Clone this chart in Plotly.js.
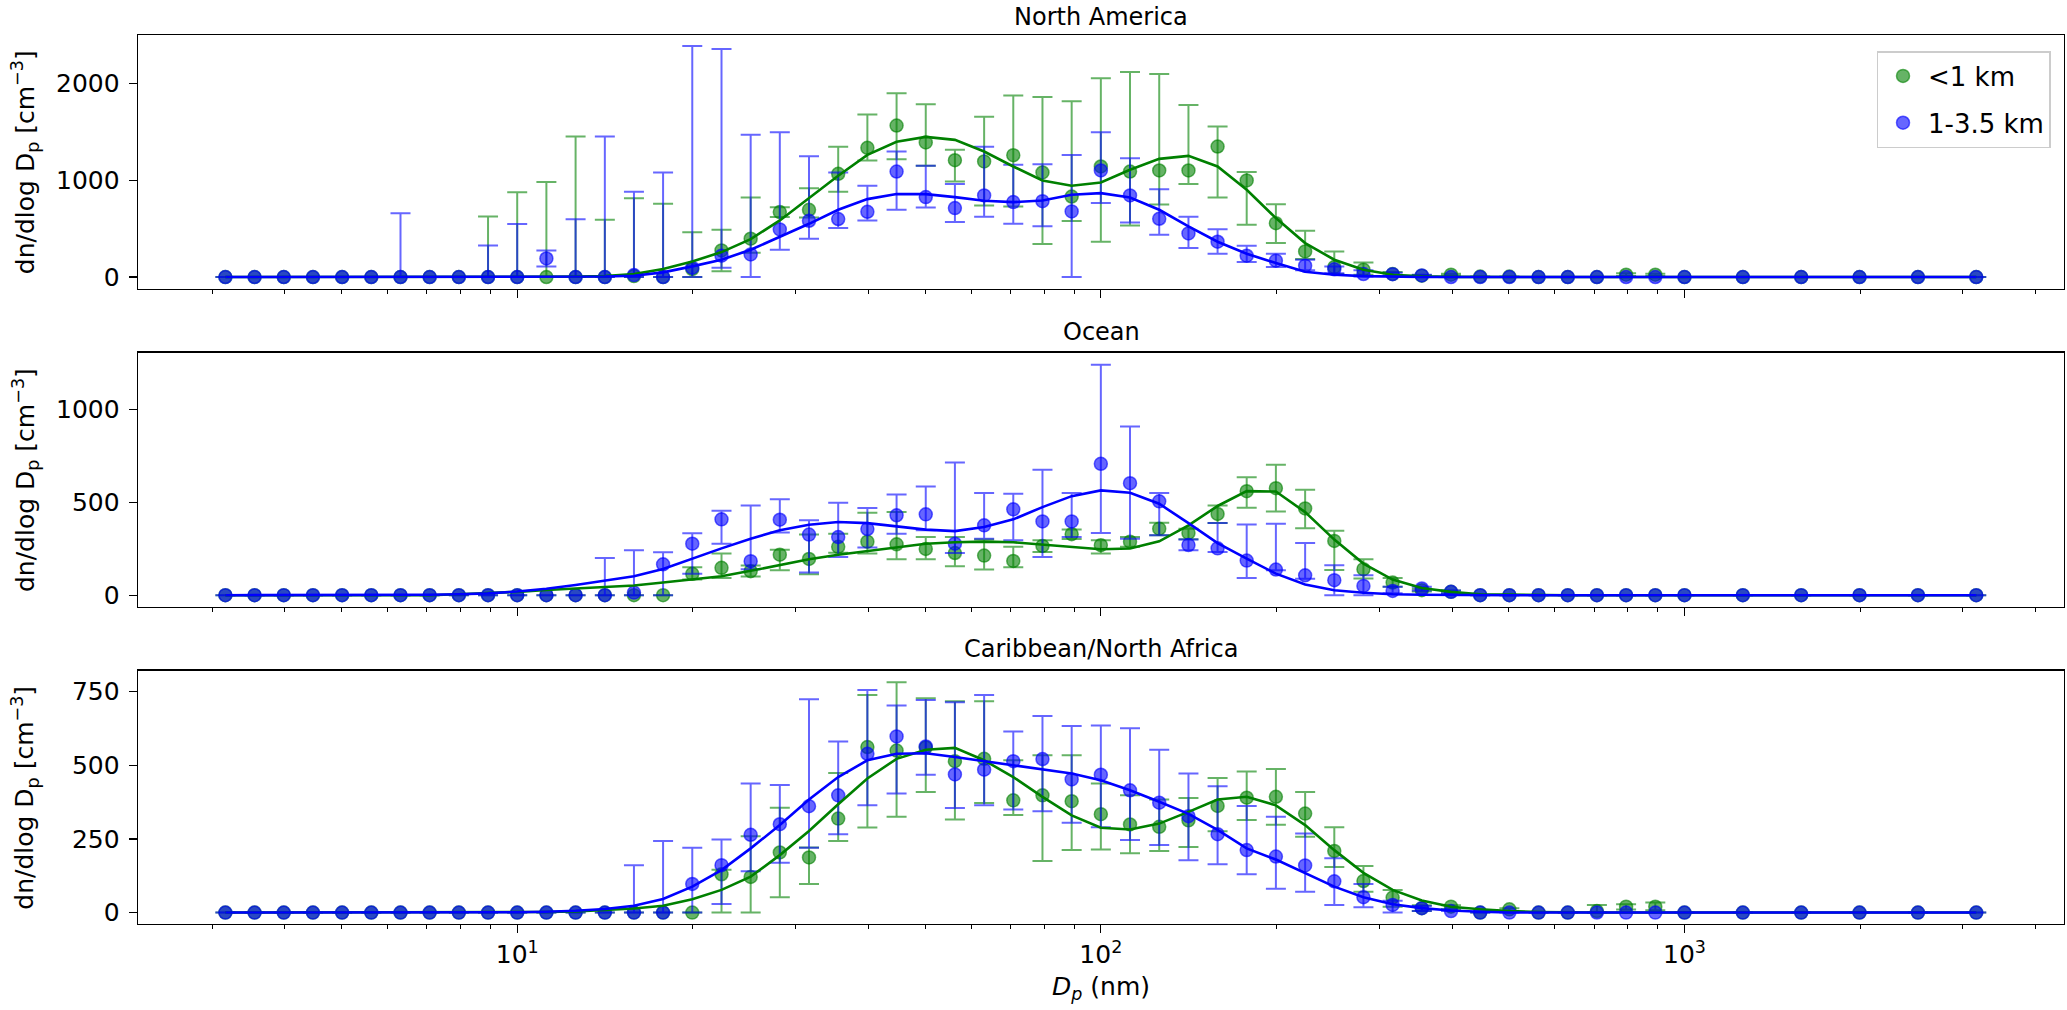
<!DOCTYPE html>
<html>
<head>
<meta charset="utf-8">
<script src="https://cdn.plot.ly/plotly-3.0.1.min.js"></script>
<style>
  body { margin: 0; background: white; }
  #plot { width: 2067px; height: 1010px; }
</style>
</head>
<body>
<div id="plot"></div>
<script>
// particle diameter bins (nm)
var diameters = [3.162, 3.548, 3.981, 4.467, 5.012, 5.623, 6.310, 7.079, 7.943, 8.913,
	10.00, 11.22, 12.59, 14.13, 15.85, 17.78, 19.95, 22.39, 25.12, 28.18,
	31.62, 35.48, 39.81, 44.67, 50.12, 56.23, 63.10, 70.79, 79.43, 89.13,
	100.0, 112.2, 125.9, 141.3, 158.5, 177.8, 199.5, 223.9, 251.2, 281.8,
	316.2, 354.8, 398.1, 446.7, 501.2, 562.3, 631.0, 707.9, 794.3, 891.3,
	1000, 1259, 1585, 1995, 2512, 3162];

var panelTitles = ['North America', 'Ocean', 'Caribbean/North Africa'];
var seriesNames = ['&lt;1 km', '1-3.5 km'];

// ---- North America ----
// mean values, upper / lower ends of the error bars (null = no bar), fitted curve
var naLow = [0, 0, 0, 0, 0, 0, 0, 0, 0, 0,
	0, 0, 0, 0, 10, 0, 83, 275, 396, 671,
	695, 1066, 1335, 1565, 1390, 1207, 1194, 1259, 1080, 832,
	1142, 1090, 1101, 1101, 1348, 998, 557, 265, 103, 76,
	31, 14, 25, 5, 5, 0, 0, 0, 24, 24,
	0, 0, 0, 0, 0, 0];
var naLowHi = [null, null, null, null, null, null, null, null, null, 626,
	877, 983, 1451, 592, 815, 757, 464, 488, 822, 720,
	918, 1345, 1679, 1899, 1785, 1314, 1655, 1875, 1861, 1816,
	2054, 2119, 2098, 1778, 1555, 1084, 753, 478, 265, 151,
	52, 20, 35, null, null, null, null, null, 40, 35,
	null, null, null, null, null, null];
var naLowLo = [null, null, null, null, null, null, null, null, null, 0,
	0, 0, 0, 0, 0, 0, 0, 60, 250, 620,
	616, 881, 1204, 1218, 1150, 987, 740, 729, 341, 578,
	365, 533, 750, 960, 822, 540, 351, 186, 31, 24,
	15, 8, 15, null, null, null, null, null, 10, 12,
	null, null, null, null, null, null];
var naLowFit = [0, 0, 0, 0, 0, 0, 0, 0, 0, 0,
	0, 0, 4, 10, 30, 83, 160, 258, 392, 585,
	815, 1046, 1262, 1397, 1448, 1417, 1297, 1142, 998, 943,
	977, 1108, 1221, 1252, 1142, 901, 609, 351, 179, 76,
	24, 7, 2, 0, 0, 0, 0, 0, 0, 0,
	0, 0, 0, 0, 0, 0];
var naHigh = [0, 0, 0, 0, 0, 0, 0, 0, 0, 0,
	0, 192, 0, 0, 20, 0, 96, 220, 234, 492,
	581, 599, 674, 1090, 826, 712, 843, 774, 784, 678,
	1101, 843, 602, 451, 365, 220, 169, 117, 80, 31,
	30, 17, 0, 0, 0, 0, 0, 0, 0, 0,
	0, 0, 0, 0, 0, 0];
var naHighHi = [null, null, null, null, null, null, 660, null, null, 326,
	547, 275, 598, 1451, 880, 1080, 2387, 2356, 1469, 1496,
	1249, 1080, 943, 1297, 1150, 960, 1345, 1159, 1166, 1262,
	1496, 1228, 908, 623, 495, 323, 241, 179, 110, 69,
	45, 25, null, null, null, null, null, null, null, null,
	null, null, null, null, null, null];
var naHighLo = [null, null, null, null, null, null, 0, null, null, 0,
	0, 109, 0, 0, 0, 0, 0, 96, 0, 282,
	396, 506, 585, 695, 719, 568, 623, 550, 526, 0,
	764, 564, 437, 299, 241, 155, 103, 69, 40, 5,
	15, 10, null, null, null, null, null, null, null, null,
	null, null, null, null, null, null];
var naHighFit = [0, 0, 0, 0, 0, 0, 0, 0, 0, 0,
	0, 0, 2, 5, 14, 48, 110, 179, 282, 413,
	550, 695, 805, 857, 857, 826, 788, 774, 791, 850,
	867, 822, 695, 523, 365, 241, 144, 55, 24, 10,
	3, 0, 0, 0, 0, 0, 0, 0, 0, 0,
	0, 0, 0, 0, 0, 0];

// ---- Ocean ----
var ocLow = [0, 0, 0, 0, 0, 0, 0, 0, 0, 0,
	0, 0, 0, 0, 0, 0, 115, 147, 129, 218,
	195, 260, 288, 274, 249, 227, 213, 184, 265, 328,
	269, 288, 358, 335, 437, 560, 576, 467, 292, 140,
	68, 27, 18, 0, 0, 0, 0, 0, 0, 0,
	0, 0, 0, 0, 0, 0];
var ocLowHi = [null, null, null, null, null, null, null, null, null, null,
	null, null, null, null, null, null, 150, 224, 160, 245,
	326, 331, 444, 447, 313, 313, 299, 260, 295, 353,
	295, 313, 390, 358, 483, 635, 702, 567, 347, 193,
	93, 35, 25, null, null, null, null, null, null, null,
	null, null, null, null, null, null];
var ocLowLo = [null, null, null, null, null, null, null, null, null, null,
	null, null, null, null, null, null, 84, 93, 100, 134,
	113, 229, 224, 193, 193, 156, 138, 150, 233, 303,
	224, 260, 322, 301, 388, 470, 450, 360, 135, 90,
	45, 20, 10, null, null, null, null, null, null, null,
	null, null, null, null, null, null];
var ocLowFit = [0, 0, 0, 0, 0, 0, 0, 0, 5, 10,
	18, 28, 36, 44, 52, 68, 86, 102, 131, 161,
	193, 218, 238, 260, 277, 285, 288, 285, 272, 260,
	247, 251, 290, 376, 480, 560, 558, 447, 299, 170,
	84, 39, 18, 5, 2, 0, 0, 0, 0, 0,
	0, 0, 0, 0, 0, 0];
var ocHigh = [0, 0, 0, 0, 0, 0, 0, 0, 0, 0,
	0, 0, 0, 0, 14, 166, 277, 408, 183, 406,
	326, 313, 356, 430, 435, 277, 376, 462, 397, 397,
	707, 603, 505, 270, 252, 186, 138, 107, 81, 50,
	23, 36, 18, 0, 0, 0, 0, 0, 0, 0,
	0, 0, 0, 0, 0, 0];
var ocHighHi = [null, null, null, null, null, null, null, null, null, null,
	null, null, null, 200, 242, 231, 333, 455, 482, 516,
	403, 498, 469, 542, 585, 714, 550, 546, 675, 550,
	1240, 908, 550, 300, 388, 381, 385, 281, 161, 107,
	45, 45, 25, null, null, null, null, null, null, null,
	null, null, null, null, null, null];
var ocHighLo = [null, null, null, null, null, null, null, null, null, null,
	null, null, null, 0, 0, 0, 116, 277, 140, 337,
	122, 206, 256, 330, 350, 227, 304, 295, 206, 313,
	335, 304, 322, 242, 233, 93, 134, 89, 0, 0,
	10, 25, 10, null, null, null, null, null, null, null,
	null, null, null, null, null, null];
var ocHighFit = [0, 0, 0, 0, 0, 0, 0, 2, 5, 10,
	20, 35, 55, 78, 102, 141, 197, 252, 304, 349,
	379, 394, 388, 371, 353, 345, 367, 408, 474, 533,
	564, 551, 492, 388, 280, 197, 116, 57, 27, 13,
	5, 2, 0, 0, 0, 0, 0, 0, 0, 0,
	0, 0, 0, 0, 0, 0];

// ---- Caribbean/North Africa ----
var caLow = [0, 0, 0, 0, 0, 0, 0, 0, 0, 0,
	0, 0, 0, 0, 0, 0, 0, 130, 121, 204,
	187, 319, 562, 550, 560, 514, 522, 381, 398, 378,
	334, 299, 291, 313, 362, 390, 393, 336, 209, 107,
	51, 15, 20, 0, 11, 0, 0, 5, 20, 20,
	0, 0, 0, 0, 0, 0];
var caLowHi = [null, null, null, null, null, null, null, null, null, null,
	null, null, null, null, null, null, null, 145, 259, 356,
	221, 474, 739, 782, 728, 717, 717, 517, 534, 534,
	438, 398, 384, 389, 457, 479, 487, 409, 290, 158,
	77, 25, 25, null, 15, null, null, 26, 28, 34,
	null, null, null, null, null, null];
var caLowLo = [null, null, null, null, null, null, null, null, null, null,
	null, null, null, null, null, null, null, 0, 0, 52,
	97, 243, 289, 325, 409, 316, 372, 331, 175, 212,
	214, 201, 209, 223, 276, 314, 298, 257, 155, 71,
	20, 5, 12, null, 5, null, null, 0, 10, 8,
	null, null, null, null, null, null];
var caLowFit = [0, 0, 0, 0, 0, 0, 0, 0, 0, 0,
	0, 2, 4, 8, 14, 23, 45, 77, 122, 195,
	277, 368, 455, 522, 553, 559, 517, 460, 393, 330,
	288, 282, 302, 342, 384, 393, 364, 297, 212, 135,
	77, 41, 20, 11, 5, 2, 0, 0, 0, 0,
	0, 0, 0, 0, 0, 0];
var caHigh = [0, 0, 0, 0, 0, 0, 0, 0, 0, 0,
	0, 0, 0, 0, 0, 0, 97, 161, 264, 300,
	361, 398, 539, 598, 564, 469, 485, 514, 521, 452,
	468, 415, 373, 327, 266, 212, 190, 160, 106, 52,
	26, 15, 5, 0, 0, 0, 0, 0, 0, 0,
	0, 0, 0, 0, 0, 0];
var caHighHi = [null, null, null, null, null, null, null, null, null, null,
	null, null, null, null, 161, 243, 220, 248, 438, 433,
	724, 581, 756, 703, 722, 714, 739, 615, 667, 633,
	635, 626, 553, 472, 429, 362, 325, 268, 184, 97,
	40, 22, null, null, null, null, null, null, null, null,
	null, null, null, null, null, null];
var caHighLo = [null, null, null, null, null, null, null, null, null, null,
	null, null, null, null, 0, 0, 0, 29, 140, 169,
	220, 266, 364, 404, 468, 355, 364, 350, 344, 305,
	290, 246, 229, 178, 164, 130, 81, 71, 26, 18,
	0, 5, null, null, null, null, null, null, null, null,
	null, null, null, null, null, null];
var caHighFit = [0, 0, 0, 0, 0, 0, 0, 0, 0, 0,
	1, 3, 6, 12, 23, 46, 88, 144, 218, 297,
	384, 460, 517, 539, 541, 528, 514, 502, 488, 472,
	449, 415, 376, 335, 281, 218, 180, 133, 88, 52,
	28, 15, 7, 3, 0, 0, 0, 0, 0, 0,
	0, 0, 0, 0, 0, 0];

// axis ticks
var yTicks = [[0, 1000, 2000], [0, 500, 1000], [0, 250, 500, 750]];
var yRanges = [[-120, 2500], [-62, 1305], [-39, 821]];
var xTickVals = [10, 100, 1000];
var xTickText = ['10<sup>1</sup>', '10<sup>2</sup>', '10<sup>3</sup>'];
var xMinorVals = [3, 4, 5, 6, 7, 8, 9, 20, 30, 40, 50, 60, 70, 80, 90,
	200, 300, 400, 500, 600, 700, 800, 900, 2000, 3000, 4000];

var colLow = {line: 'rgb(0,128,0)', fill: 'rgba(0,128,0,0.6)'};
var colHigh = {line: 'rgb(0,0,255)', fill: 'rgba(0,0,255,0.6)'};

// layout geometry (paper fractions, figure is 2067x1010)
var domains = [[0.7142, 0.9653], [0.3993, 0.6508], [0.0851, 0.3359]];
var titleY = [0.983, 0.6713, 0.3579];
var fontFamily = 'DejaVu Sans, Liberation Sans, sans-serif';
var fontSize = 25;


function errUp(vals, hi) {
	return vals.map(function(v, i) { return hi[i] === null ? 0 : hi[i] - v; });
}

function errDown(vals, lo) {
	return vals.map(function(v, i) { return lo[i] === null ? 0 : v - lo[i]; });
}

function pointTrace(k, name, col, vals, hi, lo, showLegend) {
	var sfx = k === 0 ? '' : String(k + 1);
	return {
		type: 'scatter',
		mode: 'markers',
		x: diameters,
		y: vals,
		name: name,
		legendgroup: name,
		showlegend: showLegend,
		xaxis: 'x' + sfx,
		yaxis: 'y' + sfx,
		marker: {size: 13, color: col.fill, line: {color: col.fill, width: 1.5}},
		error_y: {
			type: 'data',
			symmetric: false,
			array: errUp(vals, hi),
			arrayminus: errDown(vals, lo),
			color: col.fill,
			thickness: 2,
			width: 10
		},
		hoverinfo: 'x+y'
	};
}

function fitTrace(k, col, fit) {
	var sfx = k === 0 ? '' : String(k + 1);
	return {
		type: 'scatter',
		mode: 'lines',
		x: diameters,
		y: fit,
		showlegend: false,
		xaxis: 'x' + sfx,
		yaxis: 'y' + sfx,
		line: {color: col.line, width: 2.6},
		hoverinfo: 'skip'
	};
}

var panels = [
	[naLow, naLowHi, naLowLo, naLowFit, naHigh, naHighHi, naHighLo, naHighFit],
	[ocLow, ocLowHi, ocLowLo, ocLowFit, ocHigh, ocHighHi, ocHighLo, ocHighFit],
	[caLow, caLowHi, caLowLo, caLowFit, caHigh, caHighHi, caHighLo, caHighFit]
];

var data = [];
for (var k = 0; k < panels.length; k++) {
	let p = panels[k];
	data.push(pointTrace(k, seriesNames[0], colLow, p[0], p[1], p[2], k === 0));
	data.push(pointTrace(k, seriesNames[1], colHigh, p[4], p[5], p[6], k === 0));
	data.push(fitTrace(k, colLow, p[3]));
	data.push(fitTrace(k, colHigh, p[7]));
}

var layout = {
	width: 2067,
	height: 1010,
	margin: {l: 138, r: 3, t: 0, b: 0},
	paper_bgcolor: 'white',
	plot_bgcolor: 'white',
	font: {family: fontFamily, size: fontSize, color: 'black'},
	showlegend: true,
	legend: {
		x: 0.993, y: 0.9495, xanchor: 'right', yanchor: 'top',
		bgcolor: 'white', bordercolor: '#cccccc', borderwidth: 1.5,
		font: {size: 26}, itemwidth: 40
	},
	annotations: []
};

for (var k = 0; k < 3; k++) {
	let sfx = k === 0 ? '' : String(k + 1);
	layout['xaxis' + sfx] = {
		type: 'log',
		range: [Math.log10(2.24), Math.log10(4470)],
		domain: [0, 1],
		anchor: 'y' + sfx,
		showline: true, mirror: true, linecolor: 'black', linewidth: 1.3,
		showgrid: false, zeroline: false,
		ticks: 'outside', ticklen: 8, tickwidth: 1.3, tickcolor: 'black',
		tickmode: 'array', tickvals: xTickVals, ticktext: xTickText,
		showticklabels: k === 2,
		tickfont: {size: fontSize},
		minor: {tickmode: 'array', tickvals: xMinorVals, ticks: 'outside', ticklen: 4, tickwidth: 1, tickcolor: 'black', showgrid: false}
	};
	layout['yaxis' + sfx] = {
		domain: domains[k],
		anchor: 'x' + sfx,
		range: yRanges[k],
		showline: true, mirror: true, linecolor: 'black', linewidth: 1.3,
		showgrid: false, zeroline: false,
		ticks: 'outside', ticklen: 8, tickwidth: 1.3, tickcolor: 'black',
		ticklabelstandoff: 4,
		tickfont: {size: fontSize},
		tickmode: 'array', tickvals: yTicks[k]
	};
	// subplot title
	layout.annotations.push({
		text: panelTitles[k], xref: 'paper', yref: 'paper',
		x: 0.5, y: titleY[k], xanchor: 'center', yanchor: 'middle',
		showarrow: false, font: {size: 24}
	});
	// y label
	layout.annotations.push({
		text: 'dn/dlog D<sub>p</sub> [cm<sup>\u22123</sup>]', xref: 'paper', yref: 'paper',
		x: -0.0585, y: (domains[k][0] + domains[k][1]) / 2, xanchor: 'center', yanchor: 'middle',
		textangle: -90, showarrow: false, font: {size: fontSize}
	});
}

// x label
layout.annotations.push({
	text: '<i>D<sub>p</sub></i> (nm)', xref: 'paper', yref: 'paper',
	x: 0.5, y: 0.022, xanchor: 'center', yanchor: 'middle',
	showarrow: false, font: {size: fontSize}
});

Plotly.newPlot('plot', data, layout, {displayModeBar: false, staticPlot: true});
</script>
</body>
</html>
